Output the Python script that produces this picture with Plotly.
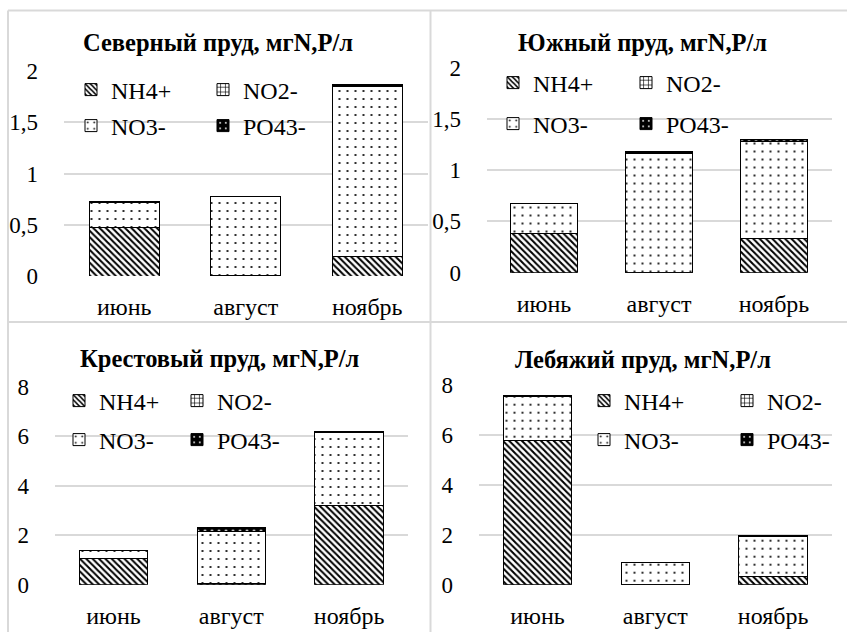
import plotly.graph_objects as go

W, H = 847, 632

categories = ["июнь", "август", "ноябрь"]
series_names = ["NH4+", "NO2-", "NO3-", "PO43-"]

titles = [
    "Северный пруд, мгN,Р/л",
    "Южный пруд, мгN,Р/л",
    "Крестовый пруд, мгN,Р/л",
    "Лебяжий пруд, мгN,Р/л",
]

# y tick labels (comma decimal separator)
small_tick_vals = [0, 0.5, 1, 1.5, 2]
small_tick_text = ["0", "0,5", "1", "1,5", "2"]
large_tick_vals = [0, 2, 4, 6, 8]
large_tick_text = ["0", "2", "4", "6", "8"]

# Северный пруд
north_nh4 = [0.47, 0.0, 0.19]
north_no2 = [0.004, 0.003, 0.004]
north_no3 = [0.245, 0.77, 1.655]
north_po4 = [0.004, 0.004, 0.02]

# Южный пруд
south_nh4 = [0.38, 0.0, 0.33]
south_no2 = [0.004, 0.003, 0.004]
south_no3 = [0.29, 1.16, 0.945]
south_po4 = [0.005, 0.02, 0.015]

# Крестовый пруд
krest_nh4 = [1.05, 0.05, 3.2]
krest_no2 = [0.01, 0.01, 0.01]
krest_no3 = [0.32, 2.1, 2.93]
krest_po4 = [0.02, 0.16, 0.07]

# Лебяжий пруд
lebyazh_nh4 = [5.76, 0.0, 0.31]
lebyazh_no2 = [0.01, 0.01, 0.01]
lebyazh_no3 = [1.77, 0.86, 1.59]
lebyazh_po4 = [0.02, 0.01, 0.07]

panels_data = [
    [north_nh4, north_no2, north_no3, north_po4],
    [south_nh4, south_no2, south_no3, south_po4],
    [krest_nh4, krest_no2, krest_no3, krest_po4],
    [lebyazh_nh4, lebyazh_no2, lebyazh_no3, lebyazh_po4],
]

y_ranges = [[0, 2], [0, 2], [0, 8], [0, 8]]
y_ticks = [
    (small_tick_vals, small_tick_text),
    (small_tick_vals, small_tick_text),
    (large_tick_vals, large_tick_text),
    (large_tick_vals, large_tick_text),
]

# plot area geometry in pixels (x0, x1, ytop, ybottom)
geom = [
    (63.5, 428, 71, 276),
    (486.5, 831.5, 67.5, 272.7),
    (54.5, 408, 387, 584.7),
    (478.5, 832, 384.7, 584.7),
]

title_pos = [(218, 42), (642, 42), (220, 358), (643, 359.5)]

# legend swatch positions: (col1_x, col2_x, row1_y, row2_y)
legend_pos = [
    (88, 220, 90, 126),
    (510, 643, 83, 124),
    (76, 194, 401, 440),
    (601, 744, 401, 440),
]

patterns = {
    "NH4+": dict(shape="\\", size=4.5, solidity=0.45, fgcolor="black", bgcolor="white", fillmode="replace"),
    "NO2-": dict(shape="+", size=6, solidity=0.25, fgcolor="black", bgcolor="white", fillmode="replace"),
    "NO3-": dict(shape=".", size=8, solidity=0.06, fgcolor="black", bgcolor="white", fillmode="replace"),
    "PO43-": dict(shape=".", size=7, solidity=0.08, fgcolor="white", bgcolor="black", fillmode="replace"),
}

FONT = "Liberation Serif"

fig = go.Figure()

for p in range(4):
    ax = "" if p == 0 else str(p + 1)
    for i, name in enumerate(series_names):
        n = p * 4 + i + 1
        lg = "legend" if n == 1 else f"legend{n}"
        fig.add_trace(go.Bar(
            x=categories,
            y=panels_data[p][i],
            name=name,
            xaxis="x" + ax,
            yaxis="y" + ax,
            legend=lg,
            marker=dict(color="white", line=dict(color="black", width=1), pattern=patterns[name]),
            showlegend=True,
        ))

layout = dict(
    width=W, height=H,
    margin=dict(l=0, r=0, t=0, b=0, autoexpand=False),
    paper_bgcolor="white",
    plot_bgcolor="white",
    barmode="stack",
    bargap=0.42,
    font=dict(family=FONT, size=24, color="black"),
    annotations=[],
    shapes=[],
)

for p in range(4):
    ax = "" if p == 0 else str(p + 1)
    x0, x1, yt, yb = geom[p]
    tv, tt = y_ticks[p]
    layout["xaxis" + ax] = dict(
        domain=[x0 / W, x1 / W],
        anchor="y" + ax,
        showgrid=False, showline=False, zeroline=False,
        ticks="outside", ticklen=9, tickcolor="rgba(0,0,0,0)",
        automargin=False,
        tickfont=dict(family=FONT, size=24, color="black"),
        fixedrange=True,
    )
    layout["yaxis" + ax] = dict(
        domain=[1 - yb / H, 1 - yt / H],
        anchor="x" + ax,
        range=y_ranges[p],
        tickmode="array", tickvals=tv, ticktext=tt,
        showgrid=True, gridcolor="#d9d9d9", gridwidth=1.5,
        zeroline=False, showline=False,
        ticks="outside", ticklen=20, tickcolor="rgba(0,0,0,0)",
        automargin=False,
        tickfont=dict(family=FONT, size=23, color="black"),
        fixedrange=True,
    )
    tx, ty = title_pos[p]
    layout["annotations"].append(dict(
        text="<b>" + titles[p] + "</b>",
        x=tx / W, y=1 - ty / H, xref="paper", yref="paper",
        xanchor="center", yanchor="middle", showarrow=False,
        font=dict(family=FONT, size=24.5, color="black"),
    ))
    c1, c2, r1, r2 = legend_pos[p]
    spots = [(c1, r1), (c2, r1), (c1, r2), (c2, r2)]
    for i in range(4):
        n = p * 4 + i + 1
        lg = "legend" if n == 1 else f"legend{n}"
        sx, sy = spots[i]
        layout[lg] = dict(
            x=(sx - 17) / W, y=1 - sy / H,
            xanchor="left", yanchor="middle",
            bgcolor="rgba(0,0,0,0)",
            font=dict(family=FONT, size=24, color="black"),
            itemwidth=30,
        )

border = dict(type="line", xref="paper", yref="paper", line=dict(color="#d9d9d9", width=2))
for (xa, ya, xb, yb_) in [(8, 10.5, 847, 10.5), (8, 322, 847, 322), (8, 10.5, 8, 632), (430.5, 10.5, 430.5, 632)]:
    s = dict(border)
    s.update(x0=xa / W, x1=xb / W, y0=1 - ya / H, y1=1 - yb_ / H)
    layout["shapes"].append(s)

fig.update_layout(**layout)
fig.write_html("out.html")
